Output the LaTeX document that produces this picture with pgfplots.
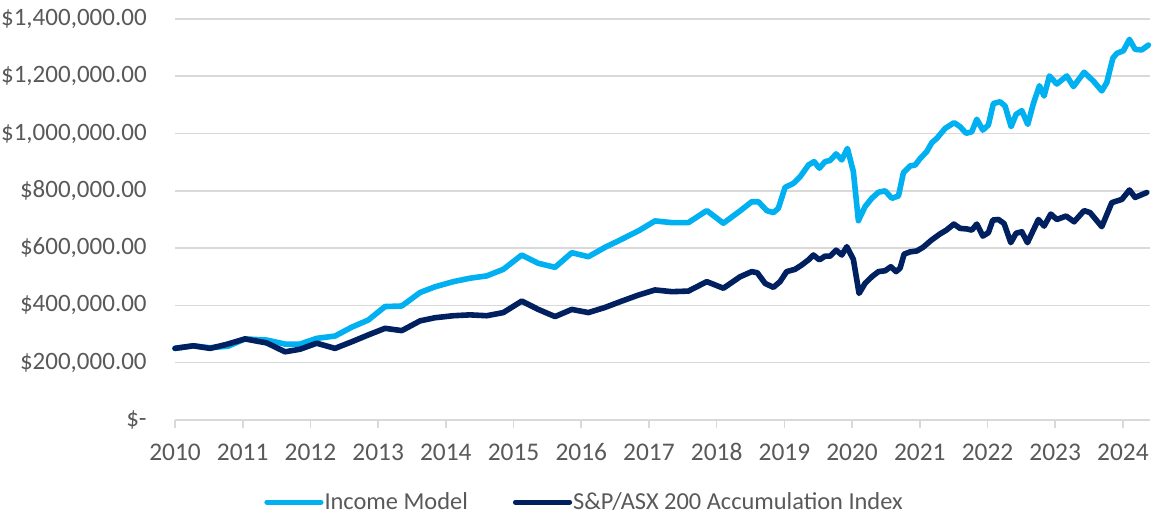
\documentclass[border=0pt]{standalone}
\usepackage{pgfplots}
\pgfplotsset{compat=1.18}
\usepackage{fontspec}
\setmainfont{Carlito}
\definecolor{incblue}{HTML}{00B0F0}
\definecolor{asxnavy}{HTML}{002060}
\definecolor{txtgray}{HTML}{595959}
\definecolor{gridgray}{HTML}{D9D9D9}

% values in thousands of dollars
\pgfplotstableread{
yr val
2010.000 250
2010.270 259
2010.517 252
2010.787 258
2011.034 283
2011.355 279
2011.625 265
2011.846 265
2012.093 285
2012.363 293
2012.610 324
2012.855 349
2013.102 396
2013.349 398
2013.619 445
2013.840 465
2014.111 483
2014.357 495
2014.604 503
2014.849 526
2015.121 576
2015.366 547
2015.613 533
2015.860 584
2016.105 570
2016.352 603
2016.598 631
2016.843 660
2017.090 695
2017.337 689
2017.582 689
2017.854 731
2018.099 687
2018.346 730
2018.518 762
2018.616 762
2018.740 731
2018.837 724
2018.911 739
2019.010 812
2019.133 826
2019.232 849
2019.355 890
2019.439 902
2019.517 879
2019.601 902
2019.675 906
2019.764 929
2019.848 908
2019.931 948
2020.019 867
2020.093 696
2020.192 745
2020.291 774
2020.389 795
2020.488 800
2020.587 774
2020.685 782
2020.758 863
2020.857 887
2020.931 890
2021.005 913
2021.103 937
2021.177 968
2021.251 983
2021.374 1018
2021.507 1038
2021.595 1024
2021.684 1001
2021.768 1006
2021.842 1050
2021.931 1012
2022.013 1030
2022.087 1105
2022.186 1111
2022.260 1096
2022.349 1024
2022.422 1067
2022.507 1080
2022.595 1032
2022.678 1105
2022.767 1167
2022.836 1131
2022.914 1201
2023.024 1173
2023.171 1201
2023.269 1164
2023.427 1214
2023.565 1183
2023.688 1149
2023.762 1178
2023.851 1263
2023.910 1280
2024.007 1289
2024.096 1329
2024.180 1294
2024.279 1292
2024.377 1309
}\incomedata

\pgfplotstableread{
yr val
2010.000 250
2010.270 259
2010.517 250
2010.763 264
2011.034 283
2011.355 269
2011.625 238
2011.846 247
2012.093 268
2012.363 250
2012.610 273
2012.855 297
2013.102 320
2013.349 312
2013.619 346
2013.840 357
2014.111 364
2014.357 367
2014.604 364
2014.849 375
2015.121 415
2015.366 386
2015.613 361
2015.860 386
2016.105 375
2016.352 393
2016.598 415
2016.843 436
2017.090 454
2017.337 448
2017.582 450
2017.854 483
2018.099 460
2018.346 500
2018.518 518
2018.600 514
2018.715 477
2018.837 463
2018.936 483
2019.034 518
2019.157 526
2019.256 541
2019.355 559
2019.429 576
2019.517 559
2019.601 572
2019.675 572
2019.764 593
2019.848 576
2019.922 605
2020.019 561
2020.103 442
2020.192 477
2020.291 500
2020.389 518
2020.488 521
2020.572 535
2020.650 518
2020.709 530
2020.768 579
2020.857 587
2020.956 590
2021.049 603
2021.172 628
2021.295 649
2021.394 663
2021.503 684
2021.595 669
2021.694 667
2021.768 663
2021.842 684
2021.931 642
2022.013 654
2022.078 698
2022.161 700
2022.245 686
2022.344 619
2022.422 652
2022.507 657
2022.590 619
2022.678 663
2022.752 700
2022.836 677
2022.935 719
2023.024 700
2023.161 712
2023.279 692
2023.427 731
2023.515 724
2023.688 675
2023.836 759
2023.984 770
2024.096 803
2024.180 777
2024.352 794
}\asxdata

\begin{document}
\begin{tikzpicture}
\begin{axis}[
  scale only axis,
  width=487.5pt, height=200.5pt,
  xmin=2010, xmax=2024.4,
  ymin=0, ymax=1400,
  xtick={2010,2011,...,2024},
  xticklabels={2010,2011,2012,2013,2014,2015,2016,2017,2018,2019,2020,2021,2022,2023,2024},
  xticklabel style={text=txtgray, font=\fontsize{12.7}{15}\selectfont,
    inner sep=0pt, yshift=-7.5pt, text height=8.6pt, text depth=0pt},
  ytick={0,200,...,1400},
  yticklabels={\$-\hspace{0.45em},\$200{,}000.00,\$400{,}000.00,\$600{,}000.00,\$800{,}000.00,\$1{,}000{,}000.00,\$1{,}200{,}000.00,\$1{,}400{,}000.00},
  yticklabel style={text=txtgray, font=\fontsize{12.5}{15}\selectfont, inner sep=0pt, xshift=-10pt},
  ymajorgrids,
  grid style={gridgray, line width=0.8pt},
  axis x line*=bottom,
  axis y line*=left,
  x axis line style={gridgray, line width=0.8pt, -},
  y axis line style={draw=none},
  xtick style={gridgray, line width=0.8pt},
  ytick style={draw=none},
  major tick length=4pt,
  tick align=outside,
  legend columns=2,
  legend style={draw=none, fill=none, at={(0.4195,-0.205)}, anchor=center,
    font=\fontsize{12.2}{14}\selectfont, text=txtgray,
    /tikz/every even column/.append style={column sep=22pt},
    inner sep=0pt, nodes={inner xsep=0.5pt, inner ysep=0pt}},
  legend image code/.code={\draw[#1, line width=2.6pt, line cap=round] (0pt,0pt) -- (27pt,0pt);},
  clip=false,
]
\addplot[incblue, line width=2.8pt, line join=round, line cap=round] table[x=yr, y=val] {\incomedata};
\addlegendentry{Income Model}
\addplot[asxnavy, line width=2.8pt, line join=round, line cap=round] table[x=yr, y=val] {\asxdata};
\addlegendentry{S\&P/ASX 200 Accumulation Index}
\coordinate (bl) at (rel axis cs:-0.1795,-0.2369);
\coordinate (tr) at (rel axis cs:1.0031,1.0474);
\end{axis}
\pgfresetboundingbox
\path[use as bounding box] (bl) rectangle (tr);
\end{tikzpicture}
\end{document}
